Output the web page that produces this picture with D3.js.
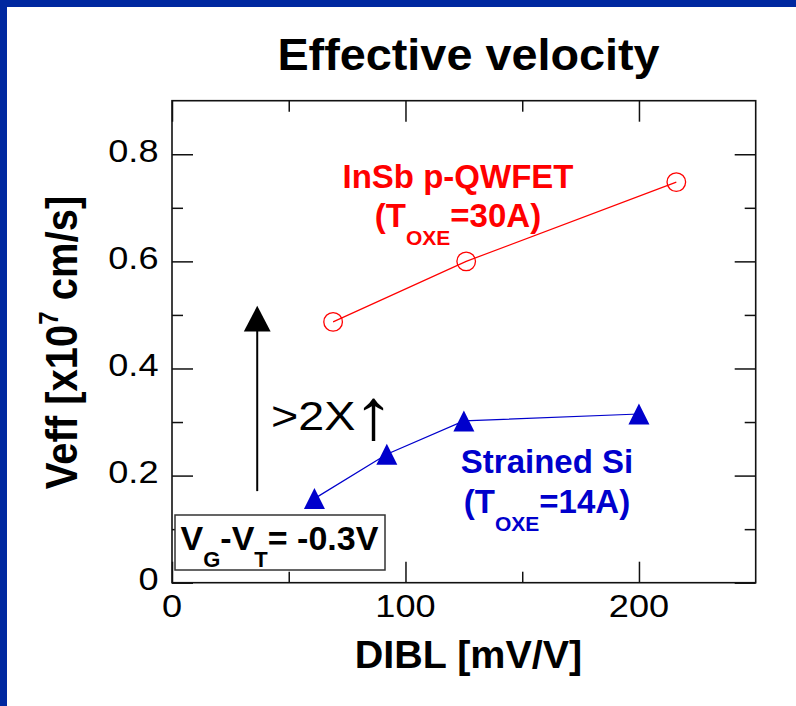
<!DOCTYPE html>
<html>
<head>
<meta charset="utf-8">
<script src="https://cdn.jsdelivr.net/npm/d3@7"></script>
<style>
  body { margin: 0; background: #fff; }
  svg { display: block; }
  text { font-family: "Liberation Sans", Arial, Helvetica, sans-serif; }
</style>
</head>
<body>
<svg id="chart" width="796" height="706"></svg>
<script>
// ---- data ----
const xMajorTicks = [0, 100, 200];
const xMinorTicks = [50, 150];
const yMajorTicks = [0, 0.2, 0.4, 0.6, 0.8];
const yMinorTicks = [0.1, 0.3, 0.5, 0.7];
const xTickLabels = ["0", "100", "200"];
const yTickLabels = ["0", "0.2", "0.4", "0.6", "0.8"];

const insbDibl = [69, 126, 216];
const insbVeff = [0.487, 0.600, 0.748];
const siDibl = [61, 92, 125, 200];
const siVeff = [0.157, 0.240, 0.302, 0.315];

// ---- layout ----
const W = 796, H = 706;
const svg = d3.select("#chart");
const x = d3.scaleLinear().domain([0, 250]).range([172, 755.7]);
const y = d3.scaleLinear().domain([0, 0.9]).range([582.7, 100.7]);

const RED = "#ff0000";
const BLUE = "#0000cc";
const FRAME_BLUE = "#0028a0";

svg.append("rect").attr("width", W).attr("height", H).attr("fill", "#fff");
// slide frame
svg.append("rect").attr("x", 0).attr("y", 0).attr("width", W).attr("height", 7).attr("fill", FRAME_BLUE);
svg.append("rect").attr("x", 0).attr("y", 0).attr("width", 7).attr("height", H).attr("fill", FRAME_BLUE);

// title
svg.append("text")
  .attr("transform", "translate(468.5,70) scale(1.04,1)")
  .attr("text-anchor", "middle")
  .attr("font-size", 45).attr("font-weight", "bold")
  .text("Effective velocity");

// ---- axes: inward ticks on all four sides ----
const x0 = x.range()[0], x1 = x.range()[1];
const y0 = y.range()[0], y1 = y.range()[1];

function tickAxis(axisFn, scale, values, size, tx, ty) {
  const g = svg.append("g")
    .attr("transform", `translate(${tx},${ty})`)
    .call(axisFn(scale).tickValues(values).tickSize(size).tickFormat(""));
  g.select(".domain").remove();
  g.selectAll(".tick line").attr("stroke", "#111").attr("stroke-width", 1.5);
  return g;
}
tickAxis(d3.axisBottom, x, xMajorTicks, -21, 0, y0);
tickAxis(d3.axisBottom, x, xMinorTicks, -11, 0, y0);
tickAxis(d3.axisTop, x, xMajorTicks, -21, 0, y1);
tickAxis(d3.axisTop, x, xMinorTicks, -11, 0, y1);
tickAxis(d3.axisLeft, y, yMajorTicks, -21, x0, 0);
tickAxis(d3.axisLeft, y, yMinorTicks, -11, x0, 0);
tickAxis(d3.axisRight, y, yMajorTicks, -21, x1, 0);
tickAxis(d3.axisRight, y, yMinorTicks, -11, x1, 0);

svg.append("rect")
  .attr("x", x0).attr("y", y1)
  .attr("width", x1 - x0).attr("height", y0 - y1)
  .attr("fill", "none").attr("stroke", "#111").attr("stroke-width", 1.6);

// tick labels
svg.append("g").selectAll("text")
  .data(xMajorTicks)
  .join("text")
  .attr("transform", d => `translate(${x(d)},617) scale(1.13,1)`)
  .attr("text-anchor", "middle")
  .attr("font-size", 32)
  .text((d, i) => xTickLabels[i]);

svg.append("g").selectAll("text")
  .data(yMajorTicks)
  .join("text")
  .attr("transform", d => `translate(158.5,${y(d) + 7.5}) scale(1.13,1)`)
  .attr("text-anchor", "end")
  .attr("font-size", 32)
  .text((d, i) => yTickLabels[i]);

// axis titles
svg.append("text")
  .attr("x", 468.5).attr("y", 668)
  .attr("text-anchor", "middle")
  .attr("font-size", 39.5).attr("font-weight", "bold")
  .text("DIBL [mV/V]");

const yTitle = svg.append("text")
  .attr("transform", "translate(77,342.5) rotate(-90) scale(1,1.12)")
  .attr("text-anchor", "middle")
  .attr("font-size", 40).attr("font-weight", "bold");
yTitle.append("tspan").text("Veff [x10");
yTitle.append("tspan").attr("font-size", 24).attr("dy", -17).text("7");
yTitle.append("tspan").attr("dy", 17).text(" cm/s]");

// ---- series ----
const line = d3.line().x(d => x(d[0])).y(d => y(d[1]));

const insb = insbDibl.map((d, i) => [d, insbVeff[i]]);
const si = siDibl.map((d, i) => [d, siVeff[i]]);

svg.append("path").datum(insb)
  .attr("d", line).attr("fill", "none")
  .attr("stroke", RED).attr("stroke-width", 1.2);
svg.append("g").selectAll("circle")
  .data(insb).join("circle")
  .attr("cx", d => x(d[0])).attr("cy", d => y(d[1]))
  .attr("r", 9.3)
  .attr("fill", "none").attr("stroke", RED).attr("stroke-width", 1.3);

svg.append("path").datum(si)
  .attr("d", line).attr("fill", "none")
  .attr("stroke", BLUE).attr("stroke-width", 1.2);

// filled triangle marker, centred on its bounding box
const triangleMarker = {
  draw(ctx, size) {
    const h = Math.sqrt(size) / 2;
    ctx.moveTo(0, -h);
    ctx.lineTo(h, h);
    ctx.lineTo(-h, h);
    ctx.closePath();
  }
};
svg.append("g").selectAll("path")
  .data(si).join("path")
  .attr("transform", d => `translate(${x(d[0])},${y(d[1])})`)
  .attr("d", d3.symbol(triangleMarker, 21 * 21))
  .attr("fill", BLUE);

// ---- series labels ----
function twoLineLabel(cx, base1, base2, color, first, sub, tail) {
  svg.append("text")
    .attr("x", cx).attr("y", base1)
    .attr("text-anchor", "middle")
    .attr("font-size", 33).attr("font-weight", "bold")
    .attr("fill", color).text(first);
  const t = svg.append("text")
    .attr("x", cx).attr("y", base2)
    .attr("text-anchor", "middle")
    .attr("font-size", 33).attr("font-weight", "bold")
    .attr("fill", color);
  t.append("tspan").text("(T");
  t.append("tspan").attr("font-size", 21).attr("dy", 18).text(sub);
  t.append("tspan").attr("dy", -18).text(tail);
}
twoLineLabel(458, 188, 227, RED, "InSb p-QWFET", "OXE", "=30A)");
twoLineLabel(547, 473.3, 513.3, BLUE, "Strained Si", "OXE", "=14A)");

// ---- improvement arrow ----
const arrowX = 36.5, arrowFrom = 0.171, arrowTip = 0.517;
svg.append("line")
  .attr("x1", x(arrowX)).attr("x2", x(arrowX))
  .attr("y1", y(arrowFrom)).attr("y2", y(arrowTip) + 20)
  .attr("stroke", "#000").attr("stroke-width", 2);
svg.append("path")
  .attr("transform", `translate(${x(arrowX)},${y(arrowTip)})`)
  .attr("d", "M0,0 L13.4,25.7 L-13.4,25.7 Z")
  .attr("fill", "#000");

const gain = svg.append("text")
  .attr("transform", "translate(271,430) scale(1.14,1)")
  .attr("font-size", 41);
gain.append("tspan").text(">2X");
gain.append("tspan").attr("font-size", 72).attr("dy", 9).attr("dx", -2).text("↑");

// ---- bias condition box ----
svg.append("rect")
  .attr("x", 175).attr("y", 515).attr("width", 210).attr("height", 55)
  .attr("fill", "#fff").attr("stroke", "#333").attr("stroke-width", 1.5);
const bias = svg.append("text")
  .attr("x", 180.5).attr("y", 550)
  .attr("font-size", 34).attr("font-weight", "bold");
bias.append("tspan").text("V");
bias.append("tspan").attr("font-size", 22).attr("dy", 17).text("G");
bias.append("tspan").attr("dy", -17).text("-V");
bias.append("tspan").attr("font-size", 22).attr("dy", 17).text("T");
bias.append("tspan").attr("dy", -17).text("= -0.3V");
</script>
</body>
</html>
